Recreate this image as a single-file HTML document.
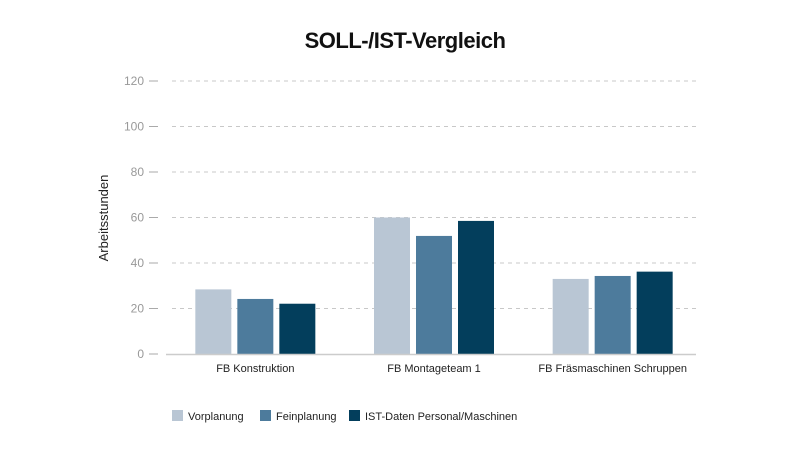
<!DOCTYPE html>
<html><head><meta charset="utf-8"><style>
body{margin:0;background:#fff;font-family:"Liberation Sans",sans-serif;}
svg text{font-family:"Liberation Sans",sans-serif;}
</style></head><body>
<svg id="c" width="800" height="450">
<text x="405" y="48" text-anchor="middle" font-size="22" font-weight="bold" fill="#111" style="letter-spacing:-0.5px">SOLL-/IST-Vergleich</text>
<text transform="translate(108,218) rotate(-90)" text-anchor="middle" font-size="13" fill="#222">Arbeitsstunden</text>
</svg>
<script>
const categories=["FB Konstruktion","FB Montageteam 1","FB Fräsmaschinen Schruppen"];
const seriesNames=["Vorplanung","Feinplanung","IST-Daten Personal/Maschinen"];
const vorplanung=[28.4,60,33];
const feinplanung=[24.2,51.9,34.3];
const istDaten=[22.1,58.5,36.2];
const yTicks=[0,20,40,60,80,100,120];
const colors=["#b9c6d4","#4d7b9c","#033e5c"];
const series=[vorplanung,feinplanung,istDaten];
const svg=document.getElementById('c');const NS="http://www.w3.org/2000/svg";
const x0=166,x1=702,yBase=354,yTop=81,yMax=120;
const y=v=>yBase-(v/yMax)*(yBase-yTop);
const band=(x1-x0)/categories.length;
const bw=36,gap=6;
function mk(t,a){const e=document.createElementNS(NS,t);for(const k in a)e.setAttribute(k,a[k]);svg.appendChild(e);return e;}
yTicks.forEach(t=>{
 if(t>0){const g=mk('line',{x1:172,x2:696,y1:y(t),y2:y(t),stroke:'#c8c8c8','stroke-dasharray':'4,4'});
 
 }
 const tk=mk('line',{x1:149,x2:158,y1:y(t),y2:y(t),stroke:'#aaa'});
 
 
 const l=mk('text',{x:144,y:y(t)+4,'text-anchor':'end','font-size':12,fill:'#999'});l.textContent=t;
 
 
});
categories.forEach((c,i)=>{
 const cx=x0+band*(i+0.5);
 series.forEach((s,j)=>{
  const bx=cx-(bw*1.5+gap)+j*(bw+gap);
  const r=mk('rect',{x:bx,y:y(s[i]),width:bw,height:yBase-y(s[i]),fill:colors[j]});
  
  
 });
 const t=mk('text',{x:cx,y:372,'text-anchor':'middle','font-size':11,fill:'#222'});t.textContent=c;
 
 
});
const ax=mk('line',{x1:166,x2:696,y1:yBase+0.5,y2:yBase+0.5,stroke:'#ccc','stroke-width':1.5});


const lx=[172,260,349];
seriesNames.forEach((n,j)=>{
 const r=mk('rect',{x:lx[j],y:410,width:11,height:11,fill:colors[j]});
 
 
 const t=mk('text',{x:lx[j]+16,y:420,'font-size':11,fill:'#222'});t.textContent=n;
 
 
});
</script>
</body></html>
